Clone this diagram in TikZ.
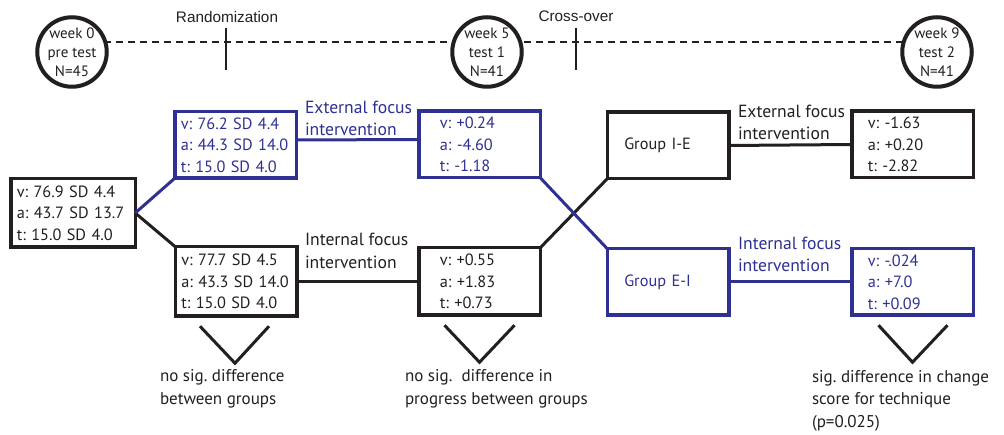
\documentclass[tikz,border=0pt]{standalone}
\usepackage{fontspec}
\setmainfont{PT Sans}
\newfontfamily\arialfont{Liberation Sans}
\usetikzlibrary{calc}
\definecolor{focusblue}{RGB}{46,49,146}
\definecolor{inkblack}{RGB}{35,31,32}
\frenchspacing
\begin{document}
\begin{tikzpicture}[x=1pt,y=-1pt,
  every node/.style={font=\fontsize{16.3}{21.5}\selectfont, inner sep=0pt, outer sep=0pt, text=inkblack},
  week/.style={circle, draw=inkblack, line width=4pt, minimum size=69.5pt, fill=white, align=center, font=\fontsize{15}{19}\selectfont},
  box/.style={draw=inkblack, line width=3.5pt, minimum height=66.5pt, text width=109.5pt, inner xsep=6pt, align=left},
  bluebox/.style={box, draw=focusblue, text=focusblue},
  link/.style={draw=inkblack, line width=3pt},
  bluelink/.style={link, draw=focusblue},
  tick/.style={draw=inkblack, line width=2pt},
  note/.style={anchor=west, align=left, font=\fontsize{17}{22.5}\selectfont},
  focus/.style={anchor=west, align=left, font=\fontsize{17.6}{22.5}\selectfont}]
\useasboundingbox (0,0) rectangle (1004,435);
% time line
\coordinate (rand) at (226,42);
\coordinate (cross) at (576,42);
\draw[inkblack, line width=2pt, dash pattern=on 7pt off 5pt] (80,42) -- (930,42);
\node[week] (w0) at (72,52) {week 0\\pre test\\N=45};
\node[week] (w5) at (487,52) {week 5\\test 1\\N=41};
\node[week] (w9) at (937,52) {week 9\\test 2\\N=41};
\draw[tick] ($(rand)+(0,-14)$) -- ($(rand)+(0,28)$);
\draw[tick] ($(cross)+(0,-14)$) -- ($(cross)+(0,28)$);
\node[font=\arialfont\fontsize{15.3}{17}\selectfont] (randlbl) at (227,17) {Randomization};
\node[font=\arialfont\fontsize{15.3}{17}\selectfont] (crosslbl) at (576,16) {Cross-over};
% boxes
\node[box, minimum height=68.5pt, text width=112.5pt, inner xsep=6pt] (start) at (73,213) {v: 76.9 SD 4.4\\a: 43.7 SD 13.7\\t: 15.0 SD 4.0};
\node[bluebox] (ext1) at (235.5,145) {v: 76.2 SD 4.4\\a: 44.3 SD 14.0\\t: 15.0 SD 4.0};
\node[box, minimum height=69.5pt] (int1) at (236,281.5) {v: 77.7 SD 4.5\\a: 43.3 SD 14.0\\t: 15.0 SD 4.0};
\node[bluebox, text width=79.5pt, inner xsep=21pt] (ext2) at (479.5,144.5) {v: +0.24\\a: -4.60\\t: -1.18};
\node[box, minimum height=67.5pt, text width=79.5pt, inner xsep=21pt] (int2) at (479.5,281.5) {v: +0.55\\a: +1.83\\t: +0.73};
\node[box, text width=87.5pt, inner xsep=17pt] (groupie) at (668,145.5) {Group I-E};
\node[bluebox, text width=87.5pt, inner xsep=17pt] (groupei) at (668,282) {Group E-I};
\node[box, text width=89.5pt, inner xsep=16pt] (res1) at (912.5,144.5) {v: -1.63\\a: +0.20\\t: -2.82};
\node[bluebox, text width=89.5pt, inner xsep=16pt] (res2) at (912.5,282) {v: -.024\\a: +7.0\\t: +0.09};
% connectors
\draw[link] (start.east) -- (int1.north west);
\draw[bluelink] (start.east) -- (ext1.south west);
\draw[bluelink] ([yshift=5pt]ext1.east) -- ([yshift=5pt]ext2.west);
\draw[link] (int1.east) -- (int2.west);
\draw[link] (int2.north east) -- (groupie.south west);
\draw[bluelink] (ext2.south east) -- (groupei.north west);
\draw[link] (groupie.east) -- (res1.west);
\draw[bluelink] (groupei.east) -- (res2.west);
\node[focus, text=focusblue] (ext1lbl) at (305,118.5) {External focus\\intervention};
\node[focus] (int1lbl) at (305,251) {Internal focus\\intervention};
\node[focus] (ext2lbl) at (738,122.5) {External focus\\intervention};
\node[focus, text=focusblue] (int2lbl) at (738,254.5) {Internal focus\\intervention};
% results
\draw[link] ($(int1.south)+(-36,10)$) -- ($(int1.south)+(-1,47)$) -- ($(int1.south)+(33,10)$);
\draw[link] ($(int2.south)+(-35,10)$) -- ($(int2.south)+(0,47)$) -- ($(int2.south)+(35,10)$);
\draw[link] ($(res2.south)+(-34,10)$) -- ($(res2.south)+(0,47)$) -- ($(res2.south)+(35,10)$);
\node[note] (note1) at (160,389) {no sig. difference\\between groups};
\node[note] (note2) at (405,389) {no sig.\ \ difference in\\progress between groups};
\node[note] (note3) at (812,400.5) {sig. difference in change\\score for technique\\(p=0.025)};
\end{tikzpicture}
\end{document}
